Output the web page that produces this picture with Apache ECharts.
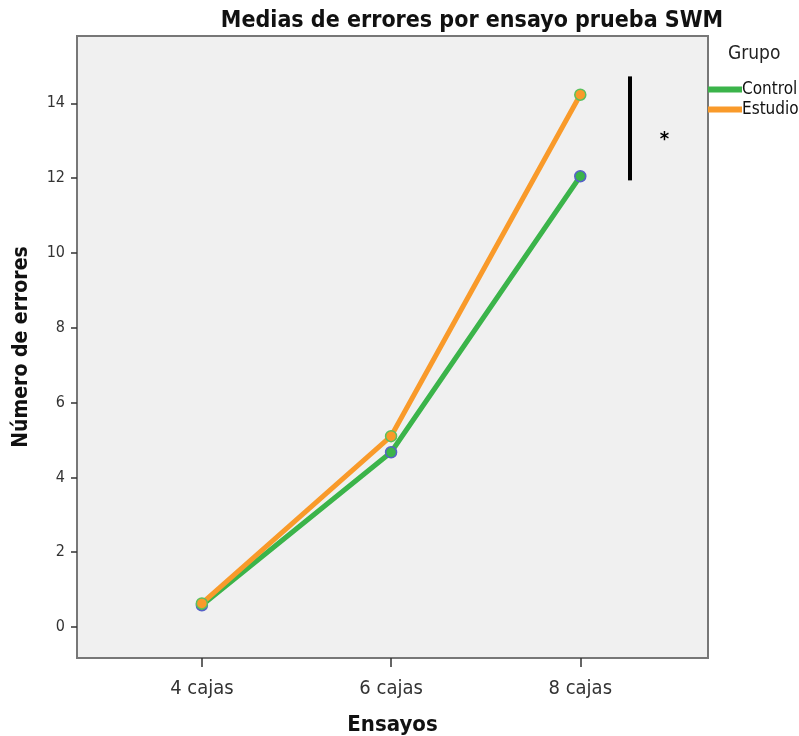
<!DOCTYPE html>
<html><head><meta charset="utf-8">
<script src="https://cdn.jsdelivr.net/npm/echarts@6/dist/echarts.min.js"></script>
<style>html,body{margin:0;padding:0;background:#fff}#c{width:799px;height:736px}</style>
</head><body><div id="c"></div>
<script>
const categories = ['4 cajas', '6 cajas', '8 cajas'];
const boxes = [4, 6, 8];
const controlValues = [0.58, 4.67, 12.05];
const estudioValues = [0.63, 5.10, 14.23];
const yTicks = [0, 2, 4, 6, 8, 10, 12, 14];
const sigBar = [[8.52, 14.72], [8.52, 11.94]];
const sigStar = [8.89, 13.1];

const FONT = "'DejaVu Sans Condensed', 'Liberation Sans Narrow', 'Liberation Sans', Arial, sans-serif";
const GREEN = '#3bb44a', ORANGE = '#f99a2a';

const chart = echarts.init(document.getElementById('c'));
chart.setOption({
  animation: false,
  backgroundColor: '#fff',
  title: {
    text: 'Medias de errores por ensayo prueba SWM',
    left: 467, textAlign: 'center', top: 5,
    textStyle: {fontFamily: FONT, fontSize: 23, fontWeight: 'bold', color: '#111'}
  },
  legend: {
    orient: 'vertical', left: 708, top: 81, padding: 0, itemWidth: 34, itemHeight: 6, itemGap: 3,
    icon: 'rect',
    itemStyle: {borderWidth: 0},
    data: ['Control', 'Estudio'],
    textStyle: {fontFamily: FONT, fontSize: 17, color: '#111', padding: [0, 0, 0, -5]}
  },
  graphic: [{
    type: 'text', left: 728, top: 45,
    style: {text: 'Grupo', font: "19px " + FONT, fill: '#222'}
  }],
  grid: {left: 77, right: 91, top: 36, bottom: 78, show: true, backgroundColor: '#f0f0f0',
         borderColor: '#777', borderWidth: 2, containLabel: false, outerBoundsMode: 'none'},
  xAxis: {
    type: 'value', min: 2.68, max: 9.35,
    name: 'Ensayos', nameLocation: 'middle', nameGap: 56,
    nameTextStyle: {fontFamily: FONT, fontSize: 22, fontWeight: 'bold', color: '#111'},
    splitLine: {show: false},
    axisLine: {show: false, onZero: false},
    axisTick: {show: true, inside: false, length: 9, customValues: boxes, lineStyle: {color: '#333', width: 1.5}},
    axisLabel: {customValues: boxes, margin: 21, fontFamily: FONT, fontSize: 20, color: '#333',
      formatter: v => categories[boxes.indexOf(v)] || ''}
  },
  yAxis: {
    type: 'value', min: -0.83, max: 15.8,
    name: 'Número de errores', nameLocation: 'middle', nameGap: 45,
    nameTextStyle: {fontFamily: FONT, fontSize: 21, fontWeight: 'bold', color: '#111'},
    splitLine: {show: false},
    axisLine: {show: false, onZero: false},
    axisTick: {show: true, length: 6, customValues: yTicks, lineStyle: {color: '#333', width: 1.5}},
    axisLabel: {customValues: yTicks, margin: 12, fontFamily: FONT, fontSize: 16, color: '#333'}
  },
  series: [
    {
      name: 'Control', type: 'line',
      data: boxes.map((b, i) => [b, controlValues[i]]),
      lineStyle: {color: GREEN, width: 5},
      itemStyle: {color: GREEN, borderColor: '#5660c8', borderWidth: 1.5},
      symbol: 'circle', symbolSize: 11, z: 2
    },
    {
      name: 'Estudio', type: 'line',
      data: boxes.map((b, i) => [b, estudioValues[i]]),
      lineStyle: {color: ORANGE, width: 5},
      itemStyle: {color: ORANGE, borderColor: '#5cc05c', borderWidth: 1.5},
      symbol: 'circle', symbolSize: 11, z: 3,
      markLine: {
        silent: true, symbol: 'none',
        lineStyle: {color: '#000', width: 4, type: 'solid'},
        label: {show: false},
        data: [[{coord: sigBar[0]}, {coord: sigBar[1]}]]
      },
      markPoint: {
        silent: true, symbol: 'circle', symbolSize: 1,
        itemStyle: {color: 'rgba(0,0,0,0)'},
        label: {show: true, formatter: '*', color: '#000', fontSize: 20, fontWeight: 'bold', fontFamily: FONT, offset: [0, 3]},
        data: [{coord: sigStar}]
      }
    }
  ]
});
</script></body></html>
